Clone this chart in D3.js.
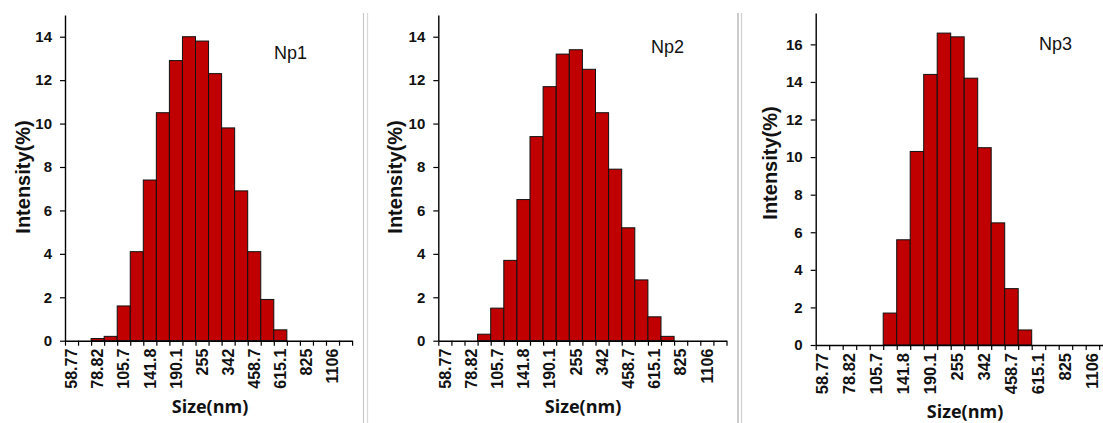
<!DOCTYPE html>
<html>
<head>
<meta charset="utf-8">
<script src="https://cdn.jsdelivr.net/npm/d3@7"></script>
<style>
  body { margin: 0; background: #fff; }
  svg { display: block; }
</style>
</head>
<body>
<div id="container"></div>
<script>
// size bins (nm), labelled every other bin
const sizes = ["58.77", "68.06", "78.82", "91.28", "105.7", "122.4", "141.8", "164.2", "190.1", "220.2", "255",
               "295.3", "342", "396.1", "458.7", "531.2", "615.1", "712.4", "825", "955.4", "1106", "1281"];

// intensity (%) per bin
const np1 = [0, 0, 0.1, 0.2, 1.6, 4.1, 7.4, 10.5, 12.9, 14.0, 13.8, 12.3, 9.8, 6.9, 4.1, 1.9, 0.5, 0, 0, 0, 0, 0];
const np2 = [0, 0, 0, 0.3, 1.5, 3.7, 6.5, 9.4, 11.7, 13.2, 13.4, 12.5, 10.5, 7.9, 5.2, 2.8, 1.1, 0.2, 0, 0, 0, 0];
const np3 = [0, 0, 0, 0, 0, 1.7, 5.6, 10.3, 14.4, 16.6, 16.4, 14.2, 10.5, 6.5, 3.0, 0.8, 0, 0, 0, 0, 0, 0];

const ticks1 = [0, 2, 4, 6, 8, 10, 12, 14];
const ticks3 = [0, 2, 4, 6, 8, 10, 12, 14, 16];

let viz = d3.select("#container")
  .append("svg")
    .attr("width", 1103)
    .attr("height", 423)
;

// panel separators (grey double lines)
[[363.5, "#c8c8c8"], [367.5, "#d8d8d8"], [738, "#a8a8a8"], [741.5, "#d0d0d0"]].forEach(([x, c]) => {
  viz.append("line")
      .attr("x1", x).attr("x2", x)
      .attr("y1", 13).attr("y2", 423)
      .attr("stroke", c)
      .attr("stroke-width", 1.2);
});

function panel(p) {
  let g = viz.append("g").attr("transform", `translate(${p.left},0)`);
  let w = p.bin * sizes.length;

  let x = d3.scaleBand().domain(sizes).range([0, w]).padding(0);
  let xi = d3.scaleLinear().domain([0, sizes.length]).range([0, w]);
  let y = d3.scaleLinear().domain([0, p.ymax]).range([p.zero, p.top]);

  // bars
  g.selectAll("rect.bar")
    .data(p.values.map((v, i) => ({ s: sizes[i], v: v })).filter(d => d.v > 0))
    .enter().append("rect")
      .attr("class", "bar")
      .attr("x", d => x(d.s))
      .attr("y", d => y(d.v))
      .attr("width", x.bandwidth())
      .attr("height", d => y(0) - y(d.v))
      .attr("fill", "#c00000")
      .attr("stroke", "#111")
      .attr("stroke-width", 1);

  // y axis
  let ya = g.append("g")
      .call(d3.axisLeft(y).tickValues(p.ticks).tickSize(5).tickPadding(8).tickSizeOuter(0));
  ya.select(".domain").attr("stroke-width", 1.4);
  ya.selectAll(".tick line").attr("stroke-width", 1.2);
  ya.selectAll("text")
      .attr("font-family", "Liberation Sans, Arial, sans-serif")
      .attr("font-weight", "bold")
      .attr("font-size", 15)
      .attr("fill", "#111");

  // x axis: boundary ticks
  let xa = g.append("g")
      .attr("transform", `translate(0,${p.zero})`)
      .call(d3.axisBottom(xi).tickValues(d3.range(sizes.length + 1)).tickFormat("").tickSize(5).tickSizeOuter(0));
  xa.select(".domain").attr("stroke-width", 1.4);
  xa.selectAll(".tick line").attr("stroke-width", 1.2);

  // x axis: bin labels (every other bin)
  let xl = g.append("g")
      .attr("transform", `translate(0,${p.zero})`)
      .call(d3.axisBottom(x).tickSize(0).tickFormat((d, i) => i % 2 === 0 ? d : ""));
  xl.select(".domain").remove();
  xl.selectAll("text")
      .attr("transform", "rotate(-90)")
      .attr("x", -8)
      .attr("y", 0)
      .attr("dy", "0.36em")
      .attr("text-anchor", "end")
      .attr("font-family", "Liberation Sans, Arial, sans-serif")
      .attr("font-weight", "bold")
      .attr("font-size", p.xfont)
      .attr("fill", "#111");

  // axis titles
  viz.append("text")
      .text("Intensity(%)")
      .attr("transform", `translate(${p.ylabX},${p.ylabY}) rotate(-90)`)
      .attr("text-anchor", "middle")
      .attr("dy", "0.35em")
      .attr("font-family", "Liberation Sans, Arial, sans-serif")
      .attr("font-weight", "bold")
      .attr("font-size", 20)
      .attr("fill", "#111");

  viz.append("text")
      .text("Size(nm)")
      .attr("x", p.xlabX)
      .attr("y", p.xlabY)
      .attr("text-anchor", "middle")
      .attr("font-family", "Open Sans, sans-serif")
      .attr("font-weight", "bold")
      .attr("font-size", 18)
      .attr("fill", "#111");

  // sample name
  viz.append("text")
      .text(p.name)
      .attr("x", p.nameX)
      .attr("y", p.nameY)
      .attr("font-family", "Liberation Sans, Arial, sans-serif")
      .attr("font-size", 18)
      .attr("fill", "#111");
}

panel({ name: "Np1", values: np1, left: 65, bin: 13.05, zero: 340.7, top: 15, ymax: 15, ticks: ticks1,
        xfont: 16, ylabX: 23, ylabY: 177, xlabX: 210, xlabY: 413, nameX: 274, nameY: 59 });
panel({ name: "Np2", values: np2, left: 438.3, bin: 13.1, zero: 340.7, top: 15, ymax: 15, ticks: ticks1,
        xfont: 16, ylabX: 395, ylabY: 177, xlabX: 583, xlabY: 413, nameX: 651, nameY: 53 });
panel({ name: "Np3", values: np3, left: 815.7, bin: 13.5, zero: 345, top: 13, ymax: 332 / 18.79, ticks: ticks3,
        xfont: 16.5, ylabX: 770, ylabY: 163, xlabX: 965, xlabY: 418, nameX: 1039, nameY: 50 });
</script>
</body>
</html>
